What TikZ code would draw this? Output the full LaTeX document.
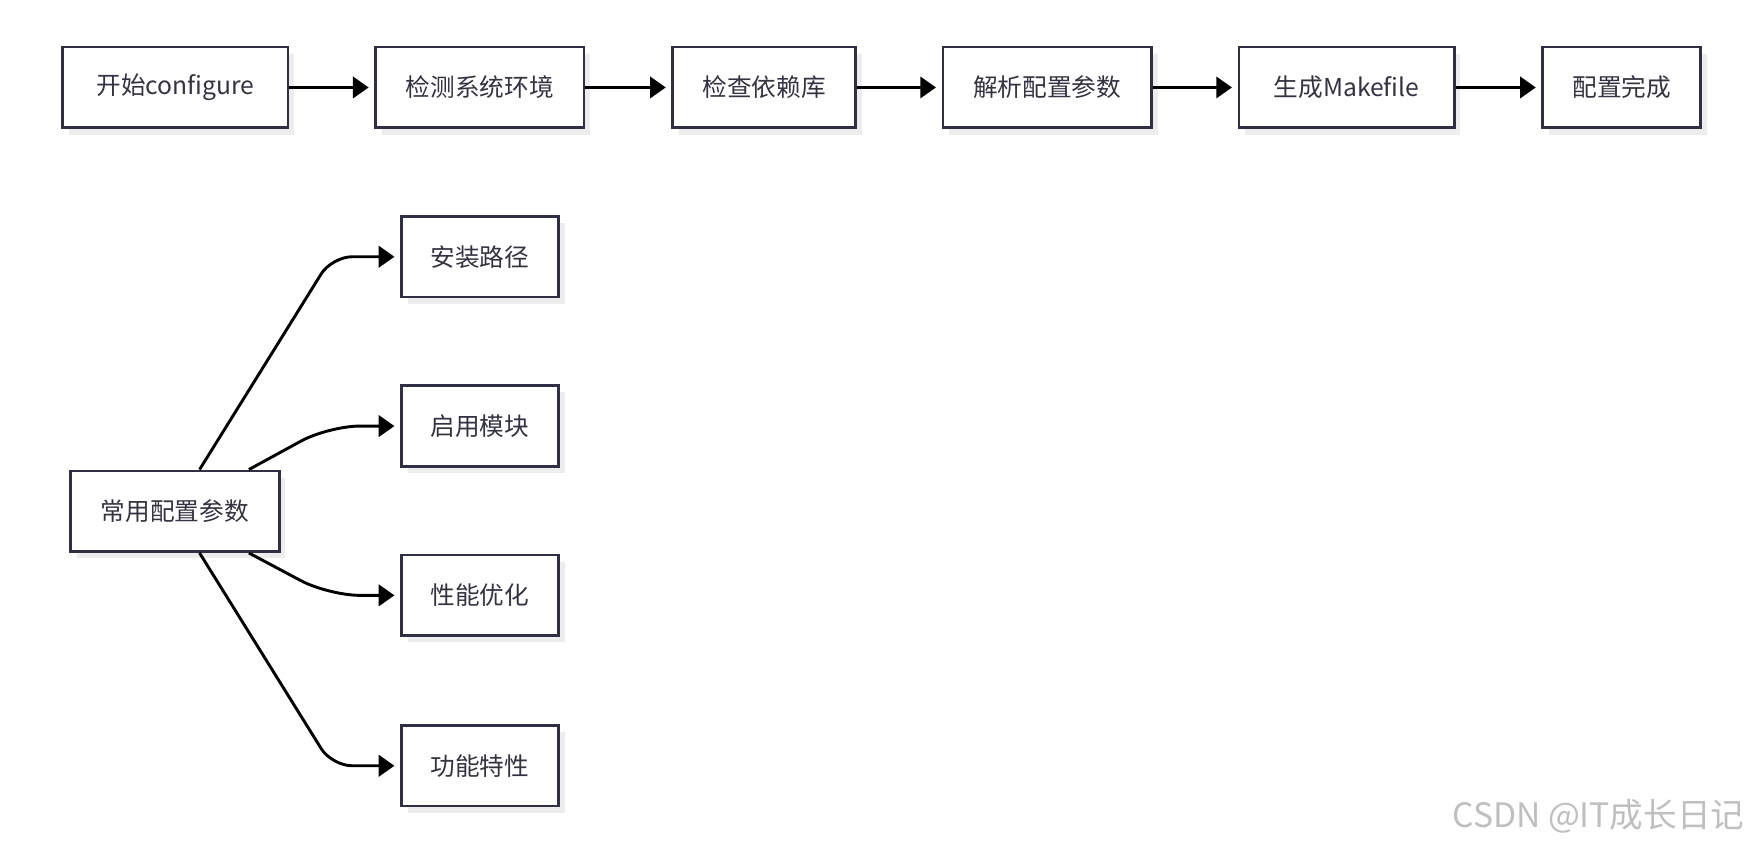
\documentclass[tikz,border=0pt]{standalone}
\usepackage{fontspec}
\newfontfamily\cjkfont{Noto Sans CJK SC}
\usetikzlibrary{arrows.meta,shadows}
\definecolor{boxline}{HTML}{2F2F45}
\definecolor{boxtext}{HTML}{333344}
\definecolor{boxshade}{HTML}{EDEDED}

\begin{document}
\begin{tikzpicture}[x=0.5pt,y=-0.5pt,
	stepbox/.style={draw=boxline, line width=1.2pt, fill=white, text=boxtext, font=\cjkfont\fontsize{11}{13}\selectfont, minimum height=36pt, inner sep=0pt, drop shadow={shadow xshift=2.75pt, shadow yshift=-3pt, fill=boxshade, opacity=1}},
	flow/.style={line width=1.3pt, -{Triangle[length=7pt,width=9.5pt]}, shorten >=2.5pt}]
		\useasboundingbox (0,0) rectangle (1568,756);
		\node [stepbox, minimum width=100.5pt] (start) at (156.5,78) {开始configure};
		\node [stepbox, minimum width=93pt] (detect) at (428,78) {检测系统环境};
		\node [stepbox, minimum width=81.5pt] (deps) at (681.5,78) {检查依赖库};
		\node [stepbox, minimum width=93pt] (parse) at (934,78) {解析配置参数};
		\node [stepbox, minimum width=96pt] (makefile) at (1201,78) {生成Makefile};
		\node [stepbox, minimum width=70.5pt] (done) at (1446.5,78) {配置完成};
		\draw [flow] (start) -- (detect);
		\draw [flow] (detect) -- (deps);
		\draw [flow] (deps) -- (parse);
		\draw [flow] (parse) -- (makefile);
		\draw [flow] (makefile) -- (done);
		\node [stepbox, minimum width=93pt] (params) at (156,456) {常用配置参数};
		\node [stepbox, minimum width=70pt] (prefix) at (428,229) {安装路径};
		\node [stepbox, minimum width=70pt] (modules) at (428,380) {启用模块};
		\node [stepbox, minimum width=70pt] (tuning) at (428,531) {性能优化};
		\node [stepbox, minimum width=70pt] (features) at (428,683) {功能特性};
		\draw [flow, rounded corners=9pt] ([xshift=11pt]params.north) -- (296,229) -- (prefix);
		\draw [flow, rounded corners=14pt] ([xshift=33pt]params.north) -- (293,380) -- (modules);
		\draw [flow, rounded corners=14pt] ([xshift=33pt]params.south) -- (293,531) -- (tuning);
		\draw [flow, rounded corners=9pt] ([xshift=11pt]params.south) -- (296,683) -- (features);
		\node [font=\cjkfont\fontsize{15}{17}\selectfont, text=black!25, anchor=east] (mark) at (1563,728) {CSDN @IT成长日记};
\end{tikzpicture}
\end{document}
